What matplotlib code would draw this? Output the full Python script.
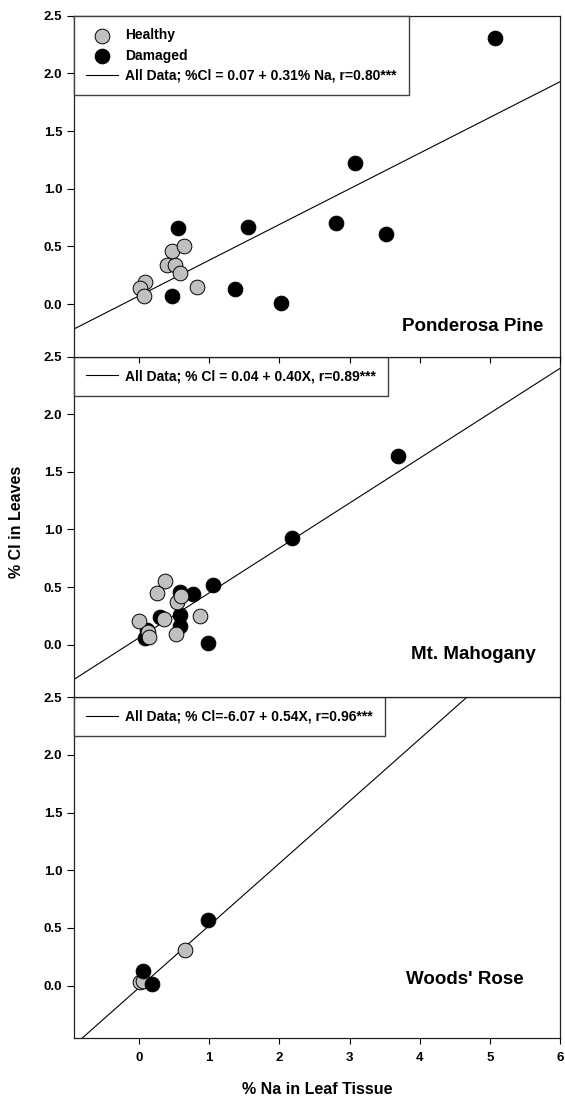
import matplotlib.pyplot as plt
import numpy as np
from matplotlib.lines import Line2D

plt.rcParams['font.family'] = ['Liberation Sans', 'DejaVu Sans']
plt.rcParams['font.weight'] = 'bold'

# Ponderosa Pine (% Na, % Cl)
pine_healthy_na = [0.09, 0.02, 0.08, 0.83, 0.40, 0.51, 0.47, 0.64, 0.58]
pine_healthy_cl = [0.19, 0.14, 0.07, 0.15, 0.34, 0.34, 0.46, 0.50, 0.27]
pine_damaged_na = [5.07, 3.08, 2.80, 3.52, 1.56, 0.56, 0.47, 1.37, 2.02]
pine_damaged_cl = [2.31, 1.225, 0.70, 0.61, 0.67, 0.66, 0.07, 0.13, 0.01]

# Mt. Mahogany
mahog_healthy_na = [0.37, 0.26, 0.54, 0.60, 0.00, 0.36, 0.87, 0.13, 0.15, 0.53]
mahog_healthy_cl = [0.55, 0.45, 0.37, 0.42, 0.21, 0.22, 0.25, 0.11, 0.07, 0.09]
mahog_damaged_na = [3.69, 2.18, 1.06, 0.77, 0.58, 0.98, 0.59, 0.59, 0.30, 0.12, 0.09]
mahog_damaged_cl = [1.64, 0.93, 0.52, 0.44, 0.46, 0.02, 0.26, 0.16, 0.24, 0.13, 0.06]

# Woods' Rose
rose_healthy_na = [0.65, 0.02, 0.06]
rose_healthy_cl = [0.31, 0.035, 0.04]
rose_damaged_na = [0.98, 0.06, 0.18]
rose_damaged_cl = [0.57, 0.13, 0.015]

# regression lines (intercept, slope)
fit_intercept = [0.07, 0.06, -0.02]
fit_slope = [0.31, 0.39, 0.54]
fit_labels = ['All Data; %Cl = 0.07 + 0.31% Na, r=0.80***',
              'All Data; % Cl = 0.04 + 0.40X, r=0.89***',
              'All Data; % Cl=-6.07 + 0.54X, r=0.96***']
site_names = ['Ponderosa Pine', 'Mt. Mahogany', "Woods' Rose"]
site_label_y = [-0.232, -0.12, 0.015]
site_label_x = [5.75, 5.65, 5.48]

healthy = [(pine_healthy_na, pine_healthy_cl), (mahog_healthy_na, mahog_healthy_cl),
           (rose_healthy_na, rose_healthy_cl)]
damaged = [(pine_damaged_na, pine_damaged_cl), (mahog_damaged_na, mahog_damaged_cl),
           (rose_damaged_na, rose_damaged_cl)]

fig = plt.figure(figsize=(5.65, 10.96), dpi=100)
left, width, h = 0.1301, 0.8619, 0.3109
bottoms = [0.6747, 0.3638, 0.0529]

ms = 112
for i in range(3):
    ax = fig.add_axes([left, bottoms[i], width, h], zorder=3 - i)
    ax.set_xlim(-0.93, 6)
    ax.set_ylim(-0.455, 2.5)
    xs = np.array(ax.get_xlim())
    line, = ax.plot(xs, fit_intercept[i] + fit_slope[i] * xs, color='black', lw=0.8,
                    label=fit_labels[i], zorder=1)
    if i == 2:
        hh = ax.scatter(*healthy[i], s=ms, c='#c0c0c0', edgecolors='black', linewidths=0.7,
                        zorder=2, label='Healthy')
        dd = ax.scatter(*damaged[i], s=ms, c='black', edgecolors='black', linewidths=0.7,
                        zorder=3, label='Damaged')
    else:
        dd = ax.scatter(*damaged[i], s=ms, c='black', edgecolors='black', linewidths=0.7,
                        zorder=2, label='Damaged')
        hh = ax.scatter(*healthy[i], s=ms, c='#c0c0c0', edgecolors='black', linewidths=0.7,
                        zorder=3, label='Healthy')
    if i == 0:
        handles = [hh, dd, line]
    else:
        handles = [line]
    leg = ax.legend(handles=handles, loc='upper left', borderaxespad=0, fancybox=False,
                    fontsize=10, handlelength=2.3, handletextpad=0.5, labelspacing=0.45,
                    borderpad=0.9, framealpha=1)
    leg.get_frame().set_edgecolor('#404040')
    leg.get_frame().set_linewidth(1.0)
    ax.text(site_label_x[i], site_label_y[i], site_names[i], ha='right', va='baseline',
            fontsize=13.5, fontweight='bold')
    ax.set_yticks([0.0, 0.5, 1.0, 1.5, 2.0, 2.5])
    ax.set_yticklabels(['0.0', '0.5', '1.0', '1.5', '2.0', '2.5'])
    ax.tick_params(axis='y', direction='out', length=5, pad=3, labelsize=9.5, width=0.8)
    ax.set_xticks([0, 1, 2, 3, 4, 5, 6])
    if i == 2:
        ax.tick_params(axis='x', direction='out', length=4, pad=6, labelsize=9.5, width=0.8)
    elif i == 0:
        ax.tick_params(axis='x', direction='out', length=4, labelbottom=False, width=0.8)
    else:
        ax.tick_params(axis='x', length=0, labelbottom=False)
    for sp in ax.spines.values():
        sp.set_linewidth(0.9)
        sp.set_color('#202020')

fig.text(left + width / 2, 0.006, '% Na in Leaf Tissue', ha='center', va='center',
         fontsize=11.5, fontweight='bold')
fig.text(0.0296, 0.5237, '% Cl in Leaves', ha='center', va='center', rotation=90,
         fontsize=11.5, fontweight='bold')

fig.savefig('out.png', dpi=100)
